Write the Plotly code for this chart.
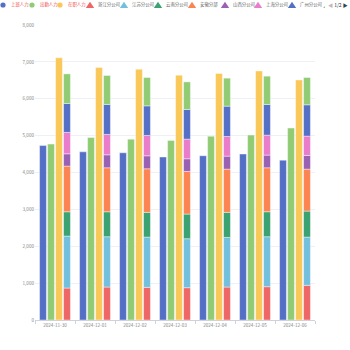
import numpy as np
import plotly.graph_objects as go

dates = ['2024-11-30', '2024-12-01', '2024-12-02', '2024-12-03', '2024-12-04', '2024-12-05', '2024-12-06']

shangban = [4730, 4560, 4535, 4420, 4455, 4500, 4335]
chuqin = [4770, 4950, 4905, 4870, 4985, 5015, 5205]
zaizhi = [7110, 6845, 6800, 6640, 6685, 6755, 6510]

zhejiang = [867, 894, 885, 876, 894, 903, 940]
jiangsu = [1409, 1364, 1364, 1328, 1346, 1355, 1309]
yunnan = [659, 677, 669, 669, 678, 678, 705]
anhui = [1238, 1193, 1183, 1156, 1174, 1192, 1138]
shanxi = [334, 352, 352, 343, 352, 344, 371]
shanghai = [580, 553, 552, 533, 533, 541, 523]
guangzhou = [785, 813, 803, 804, 822, 832, 850]
shenzhen = [803, 785, 768, 749, 759, 767, 740]

main_names = ['上班人力', '出勤人力', '在职人力']
main_values = [shangban, chuqin, zaizhi]
main_colors = ['#5470c6', '#91cc75', '#fac858']

stack_names = ['浙江分公司', '江苏分公司', '云南分公司', '安徽分部', '山西分公司', '上海分公司', '广州分公司', '深圳分公司']
stack_values = [zhejiang, jiangsu, yunnan, anhui, shanxi, shanghai, guangzhou, shenzhen]
stack_colors = ['#ee6666', '#73c0de', '#3ba272', '#fc8452', '#9a60b4', '#ea7ccc', '#5470c6', '#91cc75']

FONT = 'Noto Sans CJK SC, Noto Sans, sans-serif'
edge = dict(color='rgba(255,255,255,0.7)', width=0.6)

fig = go.Figure()
for i, (n, v, c) in enumerate(zip(main_names, main_values, main_colors)):
    fig.add_trace(go.Bar(x=dates, y=v, name=n, marker=dict(color=c, line=edge),
                         offsetgroup=str(i), showlegend=False))

arr = np.array(stack_values, dtype=float)
bases = np.vstack([np.zeros(arr.shape[1]), np.cumsum(arr, axis=0)[:-1]])
for n, v, b, c in zip(stack_names, stack_values, bases, stack_colors):
    fig.add_trace(go.Bar(x=dates, y=v, base=b, name=n, marker=dict(color=c, line=edge),
                         offsetgroup='3', showlegend=False))

# --- manual legend (ECharts style) ---
L, R, T, B = 35, 35, 25, 30
W, H = 350, 350
pw, ph = W - L - R, H - T - B
leg_y = 5
legend_items = [
    ('上班人力', '#5470c6', 'circle', 3, '#f04a4a'),
    ('出勤人力', '#91cc75', 'circle', 32, '#f04a4a'),
    ('在职人力', '#fac858', 'circle', 60, '#f04a4a'),
    ('浙江分公司', '#ee6666', 'triangle', 90, '#666666'),
    ('江苏分公司', '#73c0de', 'triangle', 124, '#666666'),
    ('云南分公司', '#3ba272', 'triangle', 158, '#666666'),
    ('安徽分部', '#fc8452', 'triangle', 192, '#666666'),
    ('山西分公司', '#9a60b4', 'triangle', 225, '#666666'),
    ('上海分公司', '#ea7ccc', 'triangle', 258, '#666666'),
    ('广州分公司', '#5470c6', 'triangle', 292, '#666666'),
]
ly = (H - B - leg_y) / ph
for name, col, sym, px, tcol in legend_items:
    ax = (px - L) / pw
    if sym == 'circle':
        fig.add_shape(type='circle', xref='paper', yref='paper', xsizemode='pixel', ysizemode='pixel',
                      xanchor=ax, yanchor=ly, x0=-2.6, x1=2.6, y0=-2.6, y1=2.6,
                      fillcolor=col, line=dict(width=0))
    else:
        fig.add_shape(type='path', xref='paper', yref='paper', xsizemode='pixel', ysizemode='pixel',
                      xanchor=ax, yanchor=ly, path='M -4.2,-3 L 4.2,-3 L 0,3.2 Z',
                      fillcolor=col, line=dict(width=0))
    fig.add_annotation(x=(px + 5.5 - L) / pw, y=ly, xref='paper', yref='paper',
                       text=name, showarrow=False, xanchor='left', yanchor='middle',
                       font=dict(size=4.4, color=tcol, family=FONT))
# partially visible next legend marker
fig.add_shape(type='path', xref='paper', yref='paper', xsizemode='pixel', ysizemode='pixel',
              xanchor=(324 - L) / pw, yanchor=ly, path='M -1,-3 L 1,-3 L 1,-1 Z',
              fillcolor='#91cc75', line=dict(width=0))
fig.add_annotation(x=(326 - L) / pw, y=ly, xref='paper', yref='paper',
                   text='<span style="color:#bbbbbb">◀</span> 1/2 <span style="color:#2f4554">▶</span>',
                   showarrow=False, xanchor='left', yanchor='middle',
                   font=dict(size=5, color='#333333', family=FONT))

fig.update_layout(
    width=W, height=H,
    margin=dict(l=L, r=R, t=T, b=B),
    paper_bgcolor='white', plot_bgcolor='white',
    barmode='group', bargap=0.2, bargroupgap=0.14,
    font=dict(family=FONT, size=4.5, color='#888888'),
    showlegend=False,
    xaxis=dict(type='category', showline=True, linecolor='#cfd2da', linewidth=1,
               ticks='outside', tickson='boundaries', ticklen=3, tickcolor='#cfd2da',
               showgrid=False, tickfont=dict(size=4.6, color='#888888'), fixedrange=True),
    yaxis=dict(range=[0, 8000], dtick=1000, tickformat=',', showgrid=True, gridcolor='#eef0f6',
               zeroline=False, showline=False, ticks='', tickfont=dict(size=4.6, color='#888888'),
               fixedrange=True),
)

fig.write_html('out.html')
